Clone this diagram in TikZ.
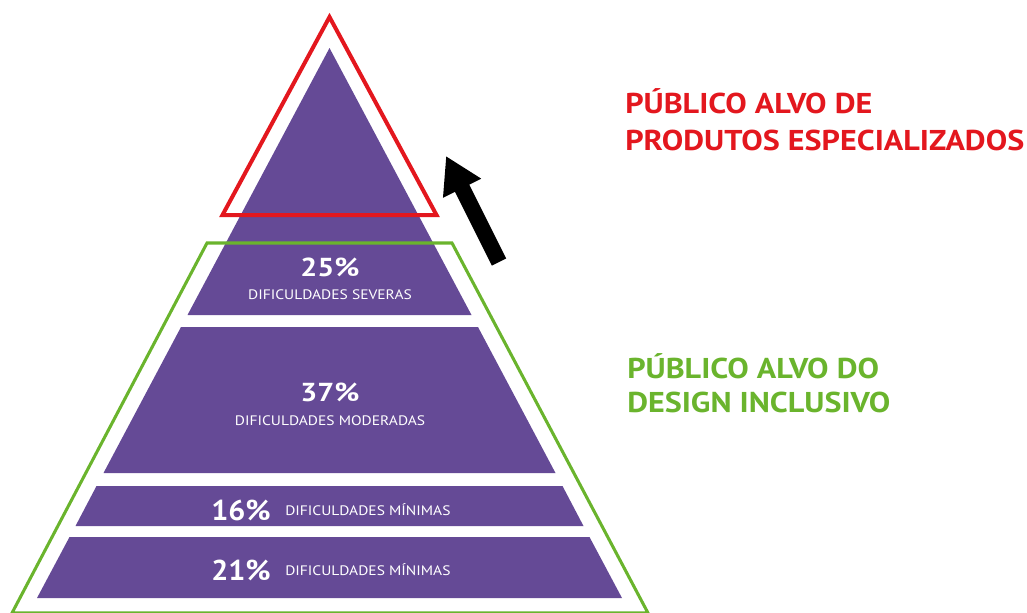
\documentclass[tikz,border=0pt]{standalone}
\usepackage{fontspec}
\setmainfont{PT Sans}
\newfontfamily\wideA[FakeStretch=1.15]{PT Sans}
\newfontfamily\wideB[FakeStretch=1.05]{PT Sans}
\newfontfamily\wideC[FakeStretch=1.13]{PT Sans}
\newfontfamily\wideD[FakeStretch=1.12]{PT Sans}
\usetikzlibrary{arrows.meta}
\definecolor{purp}{RGB}{101,74,150}
\definecolor{redc}{RGB}{227,23,30}
\definecolor{greenc}{RGB}{106,180,45}
\begin{document}
\begin{tikzpicture}[x=0.75pt,y=-0.75pt,
  layer/.style={fill=purp},
  pct/.style={text=white,inner sep=0pt,anchor=base,font=\wideA\bfseries\fontsize{19.5}{20}\selectfont},
  pctsm/.style={text=white,inner sep=0pt,anchor=base west,font=\wideB\bfseries\fontsize{21.5}{22}\selectfont},
  lbl/.style={text=white,inner sep=0pt,anchor=base,font=\wideC\fontsize{10.3}{12}\selectfont},
  lblw/.style={text=white,inner sep=0pt,anchor=base west,font=\wideC\fontsize{10.3}{12}\selectfont},
  sidelbl/.style={inner sep=0pt,anchor=base west,font=\wideD\bfseries\fontsize{21.5}{24}\selectfont}]
\useasboundingbox (0,0) rectangle (1027,612);
% purple layers
\fill[layer] (329.5,48) -- (471.5,315) -- (187.5,315) -- cycle;
\fill[layer] (181,327) -- (478,327) -- (555.5,473) -- (103.5,473) -- cycle;
\fill[layer] (96.5,486) -- (562.5,486) -- (583.5,526) -- (75.5,526) -- cycle;
\fill[layer] (69.5,537) -- (589.5,537) -- (622,598) -- (37,598) -- cycle;
% red triangle
\draw[redc,line width=3pt,line join=miter] (329.5,17) -- (436.5,215) -- (222.5,215) -- cycle;
% green trapezoid
\draw[greenc,line width=2.3pt,line join=miter] (207,243) -- (452,243) -- (648,613) -- (12,613) -- cycle;
% arrow
\coordinate (atail) at (499,262);
\coordinate (atip) at (446,156);
\draw[black,line width=12pt,-{Triangle[width=30pt,length=27pt]}] (atail) -- (atip);
% texts
\node[pct] (p25) at (330,276) {25\%};
\node[lbl] (l25) at (330,299) {DIFICULDADES SEVERAS};
\node[pct] (p37) at (330,401) {37\%};
\node[lbl] (l37) at (330,425) {DIFICULDADES MODERADAS};
\node[pctsm] (p16) at (211,520) {16\%};
\node[lblw] (l16) at (285,515) {DIFICULDADES MÍNIMAS};
\node[pctsm] (p21) at (211,580) {21\%};
\node[lblw] (l21) at (285,575) {DIFICULDADES MÍNIMAS};
\node[sidelbl,text=redc] (r1) at (625,113) {PÚBLICO ALVO DE};
\node[sidelbl,text=redc] (r2) at (625,150) {PRODUTOS ESPECIALIZADOS};
\node[sidelbl,text=greenc] (g1) at (627,378) {PÚBLICO ALVO DO};
\node[sidelbl,text=greenc] (g2) at (627,412) {DESIGN INCLUSIVO};
\end{tikzpicture}
\end{document}
